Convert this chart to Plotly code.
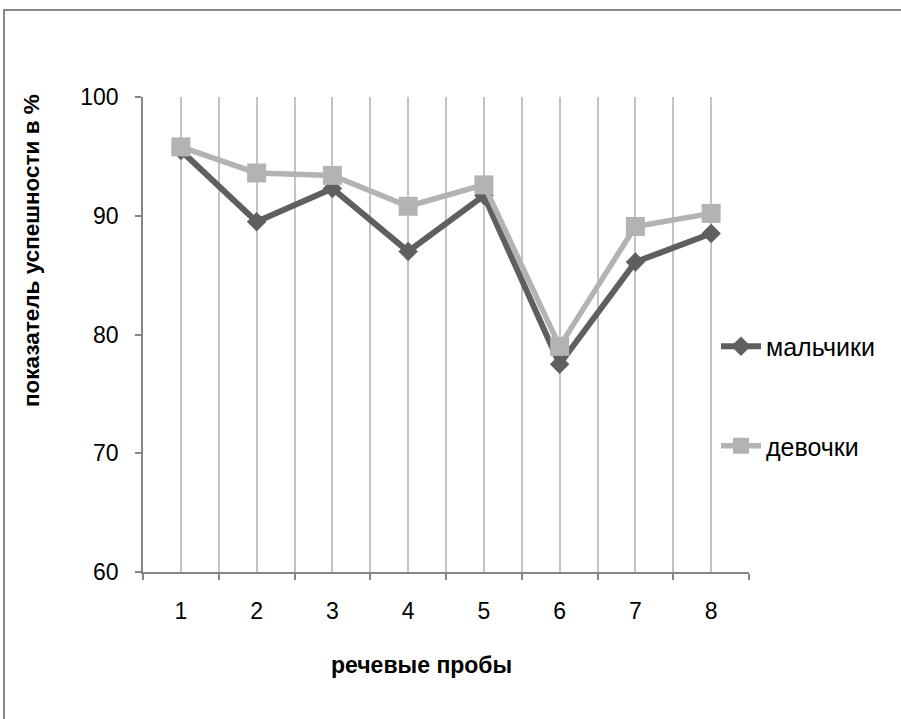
import plotly.graph_objects as go

# Speech test results (success rate, %) by test number
tests = [1, 2, 3, 4, 5, 6, 7, 8]
tick_labels = ["1", "2", "3", "4", "5", "6", "7", "8"]
boys = [95.5, 89.5, 92.3, 87.0, 91.7, 77.5, 86.1, 88.5]
girls = [95.8, 93.6, 93.4, 90.8, 92.6, 79.0, 89.1, 90.2]

series_names = ["мальчики", "девочки"]

W, H = 901, 719
L, R, T, B = 143, 749, 97, 572  # plot area in pixels

FONT = "Liberation Sans"
AXIS_GREY = "#868686"
GRID_GREY = "#c3c3c3"
FRAME_GREY = "#888888"

fig = go.Figure()
fig.add_trace(go.Scatter(
    x=tests, y=boys, name=series_names[0], mode="lines+markers",
    line=dict(color="#5f5f5f", width=6),
    marker=dict(symbol="diamond", size=15, color="#5f5f5f"),
    legendgroup="a",
))
fig.add_trace(go.Scatter(
    x=tests, y=girls, name=series_names[1], mode="lines+markers",
    line=dict(color="#b3b3b3", width=5.5),
    marker=dict(symbol="square", size=19, color="#b3b3b3"),
    legendgroup="b",
))

def px_x(p):
    return (p - L) / (R - L)

def px_y(p):
    return (B - p) / (B - T)

boundaries = [t - 0.5 for t in tests] + [tests[-1] + 0.5]

fig.update_xaxes(
    range=[0.5, 8.5],
    tickvals=tests, ticktext=tick_labels, ticks="",
    showgrid=True, gridcolor=GRID_GREY, gridwidth=1.5,
    showline=True, linecolor=AXIS_GREY, linewidth=1.5,
    tickfont=dict(family=FONT, size=23, color="#000"),
    ticklabelstandoff=18,
    zeroline=False,
    minor=dict(tickvals=boundaries, ticks="outside", ticklen=6,
               tickcolor=AXIS_GREY, tickwidth=1.5,
               showgrid=True, gridcolor=GRID_GREY, gridwidth=1.5),
)
fig.update_yaxes(
    range=[60, 100], dtick=10, tick0=60,
    ticks="outside", ticklen=6, tickcolor=AXIS_GREY, tickwidth=1.5,
    showgrid=False, zeroline=False,
    showline=True, linecolor=AXIS_GREY, linewidth=1.5,
    tickfont=dict(family=FONT, size=23, color="#000"),
    ticklabelstandoff=12,
)

# chart frame (top and left edges) as thin filled annotation boxes
frame_top = dict(text=" ", xref="paper", yref="paper",
                 x=px_x(3), y=px_y(9), xanchor="left", yanchor="top",
                 width=W - 3, height=2, bgcolor=FRAME_GREY,
                 borderpad=0, borderwidth=0, showarrow=False,
                 font=dict(size=1))
frame_left = dict(text=" ", xref="paper", yref="paper",
                  x=px_x(3), y=px_y(9), xanchor="left", yanchor="top",
                  width=2, height=H - 9, bgcolor=FRAME_GREY,
                  borderpad=0, borderwidth=0, showarrow=False,
                  font=dict(size=1))

fig.update_layout(
    width=W, height=H,
    margin=dict(l=L, r=W - R, t=T, b=H - B),
    paper_bgcolor="white", plot_bgcolor="white",
    showlegend=True,
    legend=dict(
        x=px_x(716), y=px_y(396), xanchor="left", yanchor="middle",
        font=dict(family=FONT, size=25, color="#000"),
        tracegroupgap=64, bgcolor="rgba(0,0,0,0)",
        traceorder="grouped", itemwidth=40,
    ),
    annotations=[
        frame_top,
        frame_left,
        dict(text="<b>показатель успешности в %</b>", textangle=-90,
             xref="paper", yref="paper", x=px_x(31), y=px_y(251),
             xanchor="center", yanchor="middle",
             showarrow=False, font=dict(family=FONT, size=22.5, color="#000")),
        dict(text="<b>речевые пробы</b>",
             xref="paper", yref="paper", x=px_x(421), y=px_y(665),
             xanchor="center", yanchor="middle",
             showarrow=False, font=dict(family=FONT, size=23, color="#000")),
    ],
)

fig.write_html("out.html")
